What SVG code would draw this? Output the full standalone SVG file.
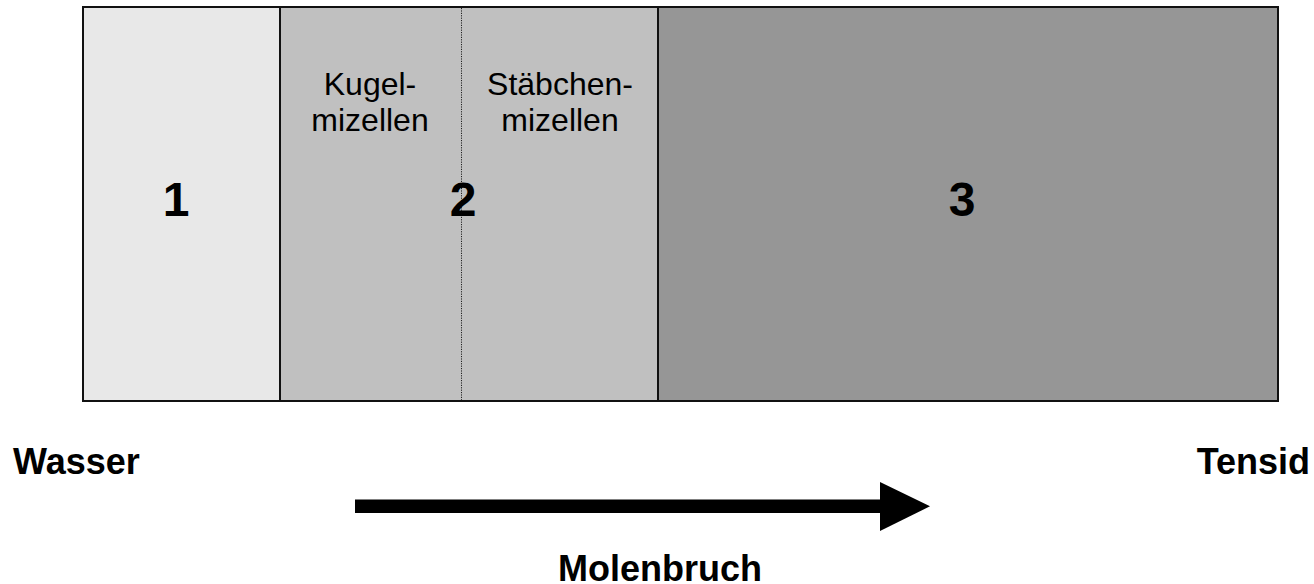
<svg xmlns="http://www.w3.org/2000/svg" width="1314" height="584" viewBox="0 0 1314 584">
  <style>
    .label { font-family: "Liberation Sans", Arial, sans-serif; fill: #000; }
    .num { font-size: 48px; font-weight: bold; text-anchor: middle; }
    .sub { font-size: 32px; text-anchor: middle; }
    .axis { font-size: 36px; font-weight: bold; }
    .edge { stroke: #111; stroke-width: 2; fill: none; }
  </style>
  <rect width="1314" height="584" fill="#ffffff"/>

  <!-- phase 1: pure water region -->
  <g id="phase1">
    <rect x="83" y="7" width="197" height="394" fill="#e8e8e8"/>
    <text class="label num" x="176" y="216">1</text>
  </g>

  <!-- phase 2: micellar region, split into spherical and rod micelles -->
  <g id="phase2">
    <rect x="280" y="7" width="378" height="394" fill="#c0c0c0"/>
    <line x1="461.5" y1="8" x2="461.5" y2="400" stroke="#222" stroke-width="1" stroke-dasharray="1.2,1.2"/>
    <text class="label sub" x="370" y="95">Kugel-</text>
    <text class="label sub" x="370" y="131">mizellen</text>
    <text class="label sub" x="560" y="95">Stäbchen-</text>
    <text class="label sub" x="560" y="131">mizellen</text>
    <text class="label num" x="463" y="216">2</text>
  </g>

  <!-- phase 3: surfactant-rich region -->
  <g id="phase3">
    <rect x="658" y="7" width="620" height="394" fill="#969696"/>
    <text class="label num" x="962" y="216">3</text>
  </g>

  <!-- outlines and phase boundaries -->
  <g id="connectors">
    <rect class="edge" x="83" y="7" width="1195" height="394"/>
    <line class="edge" x1="280" y1="7" x2="280" y2="401" stroke-width="1.6"/>
    <line class="edge" x1="658" y1="7" x2="658" y2="401" stroke-width="1.6"/>
    <!-- mole fraction arrow -->
    <rect x="355" y="499.5" width="527" height="13.5" fill="#000"/>
    <polygon points="880,482 930,506.3 880,531" fill="#000"/>
  </g>

  <!-- axis labels -->
  <g id="axis-labels">
    <text class="label axis" x="13" y="474">Wasser</text>
    <text class="label axis" x="1310" y="474" text-anchor="end">Tensid</text>
    <text class="label axis" x="660" y="581" text-anchor="middle">Molenbruch</text>
  </g>
</svg>
